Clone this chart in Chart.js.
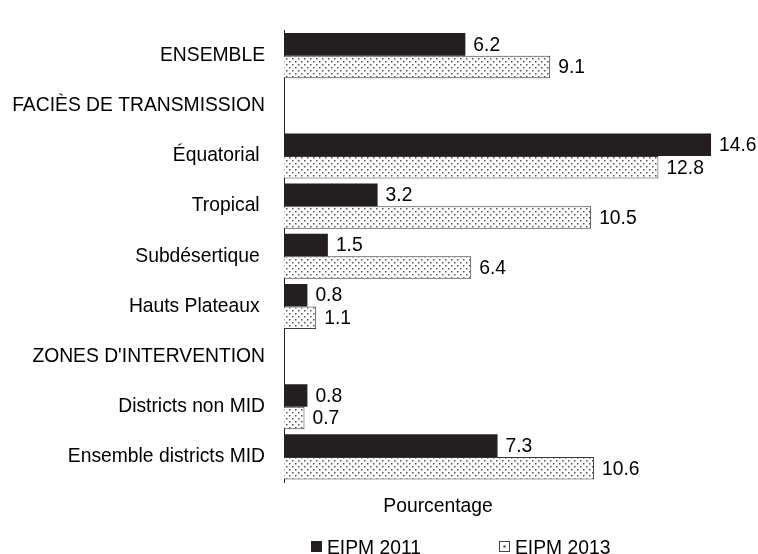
<!DOCTYPE html>
<html>
<head>
<meta charset="utf-8">
<script src="https://cdn.jsdelivr.net/npm/chart.js@4/dist/chart.umd.min.js"></script>
<style>
  html, body { margin: 0; padding: 0; background: #fff; }
</style>
</head>
<body>
<canvas id="chart" width="758" height="554"></canvas>
<script>
// categories (trailing spaces kept as in the source figure)
const categories = [
  "ENSEMBLE",
  "FACIÈS DE TRANSMISSION",
  "Équatorial ",
  "Tropical ",
  "Subdésertique ",
  "Hauts Plateaux ",
  "ZONES D'INTERVENTION",
  "Districts non MID",
  "Ensemble districts MID"
];
const eipm2011 = [6.2, null, 14.6, 3.2, 1.5, 0.8, null, 0.8, 7.3];
const eipm2013 = [9.1, null, 12.8, 10.5, 6.4, 1.1, null, 0.7, 10.6];
const seriesLabels = ["EIPM 2011", "EIPM 2013"];
const axisTitle = "Pourcentage";

const FONT_FAMILY = "'Liberation Sans', Arial, sans-serif";
const FONT = "19.3px " + FONT_FAMILY;
const DARK = "#231f20";

// dotted fill for the 2013 bars
function makeDots() {
  const c = document.createElement("canvas");
  c.width = 6;
  c.height = 6;
  const g = c.getContext("2d");
  g.fillStyle = "#ffffff";
  g.fillRect(0, 0, 6, 6);
  g.fillStyle = "#555555";
  g.fillRect(1, 1, 1.5, 1.5);
  g.fillRect(4, 4, 1.5, 1.5);
  return g.createPattern(c, "repeat");
}
const dots = makeDots();

// value labels at bar ends
const valueLabels = {
  id: "valueLabels",
  afterDatasetsDraw(chart) {
    const ctx = chart.ctx;
    ctx.save();
    ctx.font = FONT;
    ctx.fillStyle = "#000";
    ctx.textAlign = "left";
    ctx.textBaseline = "middle";
    chart.data.datasets.forEach((ds, i) => {
      chart.getDatasetMeta(i).data.forEach((bar, j) => {
        const v = ds.data[j];
        if (v == null) return;
        ctx.fillText(v.toFixed(1), bar.x + 8, bar.y + 1);
      });
    });
    ctx.restore();
  }
};

// axis title + legend drawn where the original puts them
const bottomTexts = {
  id: "bottomTexts",
  afterDraw(chart) {
    const ctx = chart.ctx;
    ctx.save();
    ctx.font = FONT;
    ctx.fillStyle = "#000";
    ctx.textBaseline = "alphabetic";
    ctx.textAlign = "center";
    ctx.fillText(axisTitle, 438, 512);

    ctx.textAlign = "left";
    const ds = chart.data.datasets;
    // EIPM 2011
    ctx.fillStyle = ds[0].backgroundColor;
    ctx.fillRect(311, 541, 11, 11);
    ctx.fillStyle = "#000";
    ctx.fillText(ds[0].label, 327, 554);
    // EIPM 2013
    ctx.fillStyle = "#fff";
    ctx.fillRect(499.5, 541.5, 10, 10);
    ctx.strokeStyle = "#444";
    ctx.lineWidth = 1;
    ctx.strokeRect(499.5, 541.5, 10, 10);
    ctx.fillStyle = "#333";
    ctx.fillRect(503.5, 545.5, 2, 2);
    ctx.fillStyle = "#000";
    ctx.fillText(ds[1].label, 515, 554);
    ctx.restore();
  }
};

new Chart(document.getElementById("chart"), {
  type: "bar",
  data: {
    labels: categories,
    datasets: [
      {
        label: seriesLabels[0],
        data: eipm2011,
        backgroundColor: DARK,
        borderWidth: 0,
        barPercentage: 1,
        categoryPercentage: 0.9
      },
      {
        label: seriesLabels[1],
        data: eipm2013,
        backgroundColor: dots,
        borderColor: "#3a3a3a",
        borderWidth: 1,
        barPercentage: 1,
        categoryPercentage: 0.9
      }
    ]
  },
  options: {
    indexAxis: "y",
    responsive: false,
    animation: false,
    devicePixelRatio: 1,
    layout: { padding: { top: 16, right: 6, bottom: 72, left: 0 } },
    plugins: {
      legend: { display: false },
      tooltip: { enabled: false },
      title: { display: false }
    },
    scales: {
      x: {
        display: false,
        min: 0,
        max: 16
      },
      y: {
        afterFit(scale) { scale.width = 284; },
        grid: { display: false, drawTicks: false },
        border: { display: true, color: DARK, width: 1 },
        ticks: {
          color: "#000",
          padding: 19,
          font: { family: FONT_FAMILY, size: 19.3 }
        }
      }
    }
  },
  plugins: [valueLabels, bottomTexts]
});
</script>
</body>
</html>
